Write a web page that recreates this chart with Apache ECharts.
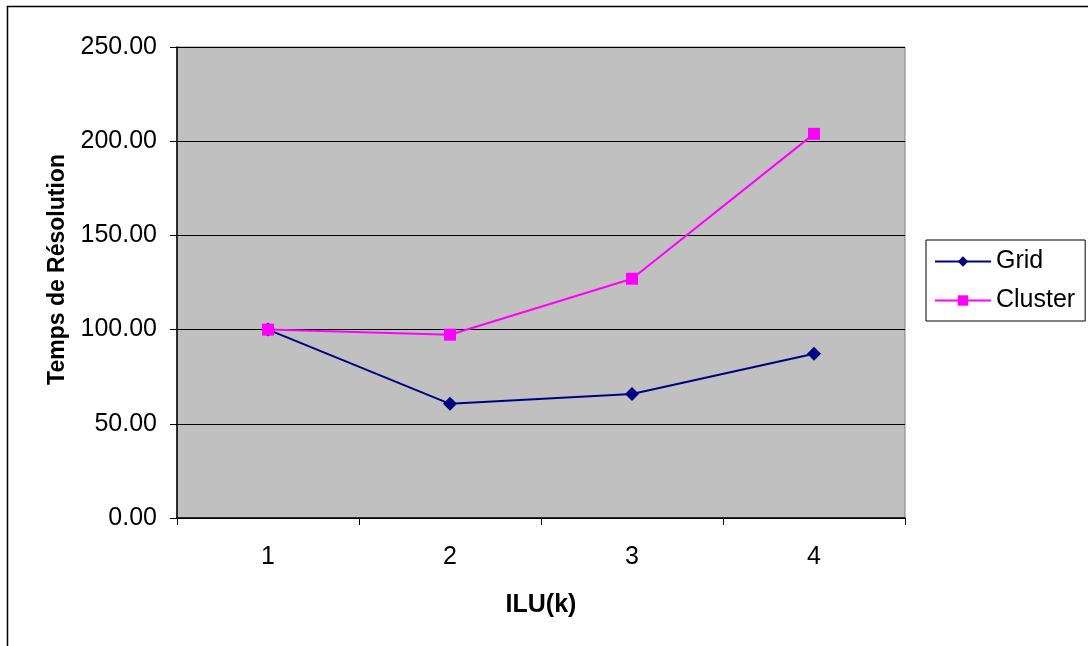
<!DOCTYPE html>
<html><head><meta charset="utf-8">
<script src="https://cdn.jsdelivr.net/npm/echarts@6/dist/echarts.min.js"></script>
<style>html,body{margin:0;padding:0;background:#fff}#c{width:1088px;height:646px}</style>
</head><body><div id="c"></div>
<script>
var categories = ['1', '2', '3', '4'];
var gridValues = [100.0, 60.6, 65.8, 87.2];
var clusterValues = [100.0, 97.3, 127.0, 203.9];
var yTicks = [0, 50, 100, 150, 200, 250];

var font = '"Liberation Sans", Arial, sans-serif';
var chart = echarts.init(document.getElementById('c'));
chart.setOption({
  animation: false,
  backgroundColor: '#fff',
  graphic: [{
    type: 'rect', shape: {x: 7.5, y: 6.5, width: 1100, height: 700},
    style: {fill: 'none', stroke: '#000', lineWidth: 1.5}, z: 0
  }],
  grid: {left: 177, top: 47, width: 728, height: 471, show: true,
    backgroundColor: '#c0c0c0', borderColor: '#808080', borderWidth: 1},
  legend: {
    orient: 'vertical', left: 926, top: 240, width: 160, height: 82,
    padding: [9, 10, 8, 8], itemGap: 14,
    borderColor: '#000', borderWidth: 1, backgroundColor: '#fff',
    itemWidth: 56, itemHeight: 13,
    textStyle: {fontFamily: font, fontSize: 25, color: '#000', padding: [0, 0, 0, 0]},
    data: ['Grid', 'Cluster']
  },
  xAxis: {
    type: 'category', data: categories, boundaryGap: true,
    name: 'ILU(k)', nameLocation: 'middle', nameGap: 75,
    nameTextStyle: {fontFamily: font, fontSize: 25, fontWeight: 'bold', color: '#000'},
    axisLine: {lineStyle: {color: '#000', width: 1.5}},
    axisTick: {show: true, length: 7, inside: false, alignWithLabel: false, lineStyle: {color: '#000'}},
    axisLabel: {fontFamily: font, fontSize: 25, color: '#000', margin: 27}
  },
  yAxis: {
    type: 'value', min: 0, max: 250, interval: 50,
    name: 'Temps de Résolution', nameLocation: 'middle', nameGap: 108,
    nameTextStyle: {fontFamily: font, fontSize: 23, fontWeight: 'bold', color: '#000', padding: [0, 0, 0, 26]},
    axisLine: {show: true, lineStyle: {color: '#000', width: 1.5}},
    axisTick: {show: true, length: 7, lineStyle: {color: '#000'}},
    axisLabel: {fontFamily: font, fontSize: 25, color: '#000', margin: 20,
      formatter: function (v) { return v.toFixed(2); }},
    splitLine: {show: true, lineStyle: {color: '#000', width: 1}}
  },
  series: [{
    name: 'Grid', type: 'line', data: gridValues,
    symbol: 'diamond', symbolSize: 14, showAllSymbol: true,
    itemStyle: {color: '#000080'}, lineStyle: {color: '#000080', width: 2}
  }, {
    name: 'Cluster', type: 'line', data: clusterValues,
    symbol: 'rect', symbolSize: 12, showAllSymbol: true,
    itemStyle: {color: '#ff00ff'}, lineStyle: {color: '#ff00ff', width: 2}
  }]
});
</script></body></html>
